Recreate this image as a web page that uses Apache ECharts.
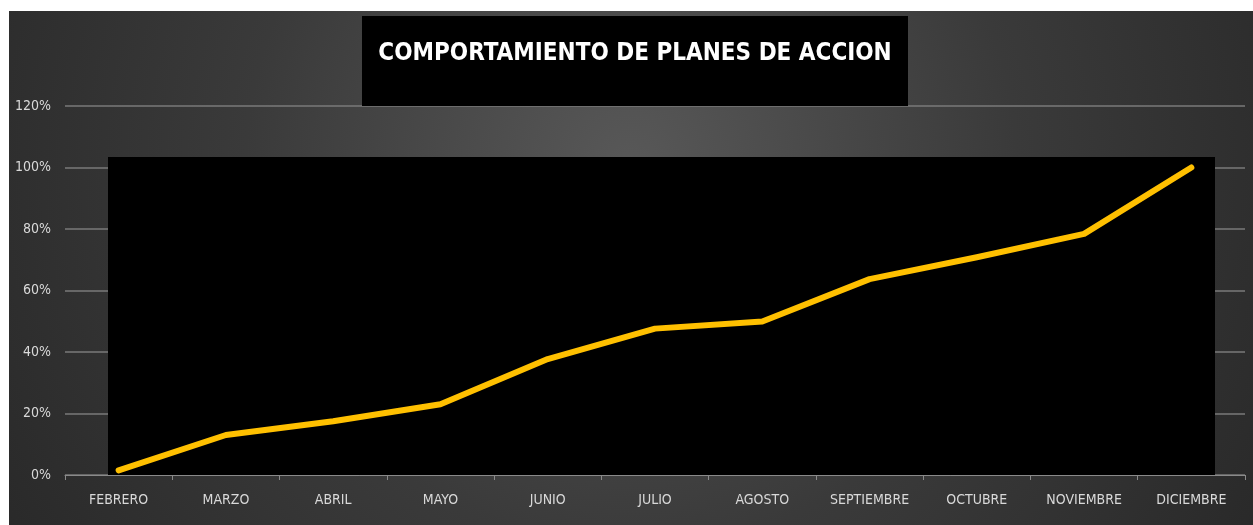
<!DOCTYPE html>
<html>
<head>
<meta charset="utf-8">
<script src="https://cdn.jsdelivr.net/npm/echarts@6/dist/echarts.min.js"></script>
<style>
	html, body { margin: 0; padding: 0; background: #ffffff; }
	#chart { position: absolute; left: 9px; top: 11px; width: 1244px; height: 514px; }
</style>
</head>
<body>
<div id="chart"></div>
<script>
	/** months shown on the x axis */
	var meses = ["FEBRERO", "MARZO", "ABRIL", "MAYO", "JUNIO", "JULIO", "AGOSTO",
		"SEPTIEMBRE", "OCTUBRE", "NOVIEMBRE", "DICIEMBRE"];
	/** accumulated progress of the action plans, in percent */
	var avance = [1.5, 13, 17.5, 23, 37.7, 47.6, 49.9, 63.7, 70.8, 78.4, 100];
	/** y axis range */
	var yMin = 0, yMax = 120, yStep = 20;
	var titulo = "COMPORTAMIENTO DE PLANES DE ACCION";

	var font = "'DejaVu Sans Condensed', sans-serif";
	var chart = echarts.init(document.getElementById("chart"));

	chart.setOption({
		backgroundColor : {
			type : "radial",
			x : 0.5,
			y : 0.3,
			r : 1.5,
			colorStops : [ { offset : 0, color : "#585858" }, { offset : 0.5, color : "#3a3a3a" }, { offset : 1, color : "#272727" } ]
		},
		animation : false,
		graphic : [ {
			type : "rect",
			z : 1,
			shape : { x : 353, y : 5, width : 546, height : 90 },
			style : { fill : "#000000" }
		}, {
			type : "text",
			z : 2,
			x : 626,
			y : 43,
			style : {
				text : titulo,
				fill : "#ffffff",
				font : "bold 24px " + font,
				align : "center",
				verticalAlign : "middle"
			}
		}, {
			type : "rect",
			z : 1,
			shape : { x : 99, y : 146, width : 1107, height : 318 },
			style : { fill : "#000000" }
		} ],
		grid : {
			left : 56,
			right : 8,
			top : 95,
			bottom : 50
		},
		xAxis : {
			type : "category",
			data : meses,
			boundaryGap : true,
			axisLine : { lineStyle : { color : "#8a8a8a", width : 1 } },
			axisTick : { show : true, length : 5, lineStyle : { color : "#8a8a8a" } },
			axisLabel : {
				interval : 0,
				color : "#d9d9d9",
				fontFamily : font,
				fontSize : 14,
				margin : 18
			}
		},
		yAxis : {
			type : "value",
			min : yMin,
			max : yMax,
			interval : yStep,
			axisLine : { show : false },
			axisTick : { show : false },
			splitLine : { lineStyle : { color : "#7a7a7a", width : 1.5 } },
			axisLabel : {
				color : "#d9d9d9",
				fontFamily : font,
				fontSize : 14,
				margin : 14,
				formatter : "{value}%"
			}
		},
		series : [ {
			type : "line",
			z : 5,
			data : avance,
			symbol : "none",
			lineStyle : { color : "#ffc000", width : 6, cap : "round", join : "round" }
		} ]
	});
</script>
</body>
</html>
